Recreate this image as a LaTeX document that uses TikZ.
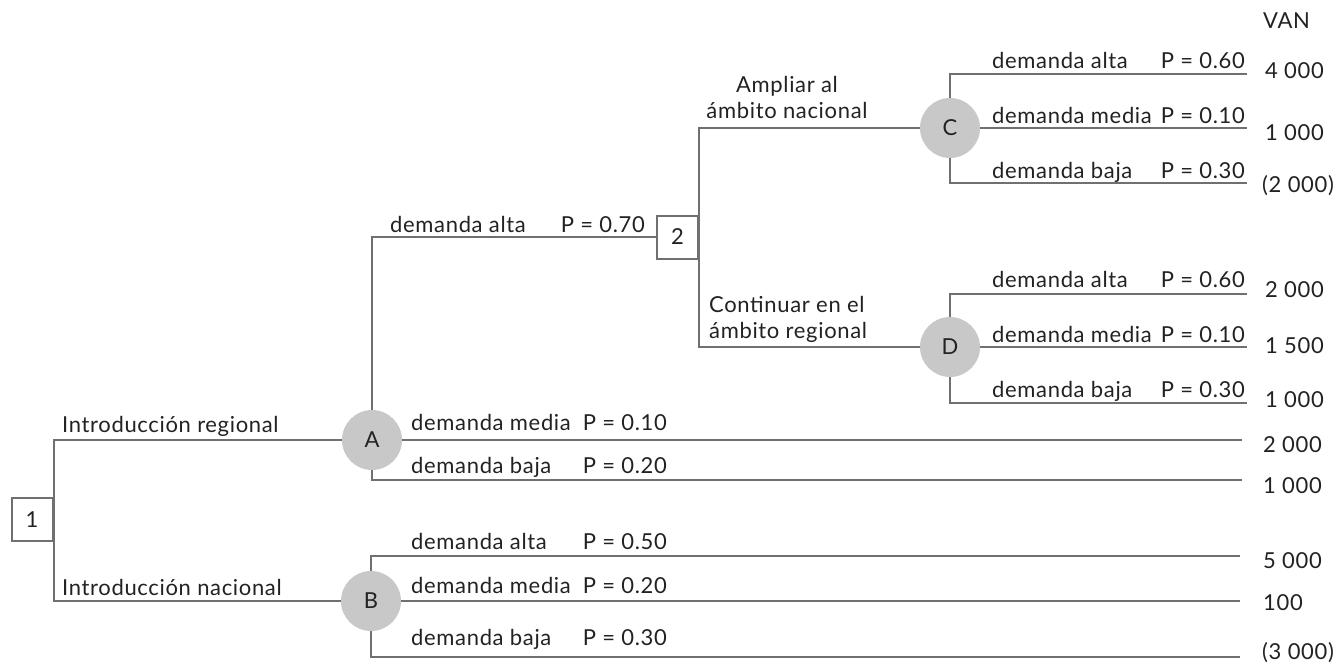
\documentclass[tikz,border=0pt]{standalone}
\usepackage{fontspec}
\setmainfont{Lato}[LetterSpace=3]
\usetikzlibrary{backgrounds}
\definecolor{ln}{HTML}{707070}
\definecolor{cf}{HTML}{C8C8C8}
\definecolor{tx}{HTML}{222222}
\begin{document}
\begin{tikzpicture}[x=1pt,y=-1pt,
  every node/.style={text=tx,font=\fontsize{22}{26}\selectfont},
  chance/.style={circle,fill=cf,minimum size=60pt,inner sep=0pt},
  decision/.style={draw=ln,line width=2pt,fill=white,minimum width=41pt,minimum height=43pt,inner sep=0pt},
  lbl/.style={anchor=base west,inner sep=0pt},
  lblr/.style={anchor=base east,inner sep=0pt},
  val/.style={anchor=base west,inner sep=0pt},
  branch/.style={draw=ln,line width=2pt}]
\useasboundingbox (0,0) rectangle (1342,662);
% decision and chance nodes
\node[decision] (b1) at (32,519.5) {1};
\node[decision] (b2) at (677.5,237) {2};
\node[chance] (A) at (372,440) {A};
\node[chance] (B) at (371,601) {B};
\node[chance] (C) at (950,128) {C};
\node[chance] (D) at (950,347) {D};
% end points
\coordinate (eAm) at (1242,440);
\coordinate (eAb) at (1242,480);
\coordinate (eBa) at (1240,556);
\coordinate (eBm) at (1240,601);
\coordinate (eBb) at (1240,657);
\coordinate (eCa) at (1247,74);
\coordinate (eCm) at (1247,128);
\coordinate (eCb) at (1247,183);
\coordinate (eDa) at (1247,294);
\coordinate (eDm) at (1247,347);
\coordinate (eDb) at (1247,403);
\begin{pgfonlayer}{background}
\draw[branch] (A) -- (A -| b1.east) -- (B -| b1.east) -- (B);
\draw[branch] (b2.west) -- (b2.west -| A) -- (eAb -| A) -- (eAb);
\draw[branch] (A) -- (eAm);
\draw[branch] (eBa) -- (eBa -| B) -- (eBb -| B) -- (eBb);
\draw[branch] (B) -- (eBm);
\draw[branch] (C) -- (C -| b2.east) -- (D -| b2.east) -- (D);
\draw[branch] (eCa) -- (eCa -| C) -- (eCb -| C) -- (eCb);
\draw[branch] (C) -- (eCm);
\draw[branch] (eDa) -- (eDa -| D) -- (eDb -| D) -- (eDb);
\draw[branch] (D) -- (eDm);
\end{pgfonlayer}
% labels
\node[lbl] (t1) at (62,432) {Introducción regional};
\node[lbl] (t2) at (62,595) {Introducción nacional};
\node[lbl] (t3) at (390,232) {demanda alta};
\node[lblr] (p3) at (645,232) {P = 0.70};
\node[anchor=base,inner sep=0pt] (t4a) at (787,92) {Ampliar al};
\node[anchor=base,inner sep=0pt] (t4b) at (787,118) {ámbito nacional};
\node[lbl] (t5a) at (709,312) {Continuar en el};
\node[lbl] (t5b) at (709,338) {ámbito regional};
% C branch labels
\node[lbl] (ca) at (992,68) {demanda alta};
\node[lblr] (pca) at (1245,68) {P = 0.60};
\node[lbl] (cm) at (992,123) {demanda media};
\node[lblr] (pcm) at (1245,123) {P = 0.10};
\node[lbl] (cb) at (992,178) {demanda baja};
\node[lblr] (pcb) at (1245,178) {P = 0.30};
% D branch labels
\node[lbl] (da) at (992,287) {demanda alta};
\node[lblr] (pda) at (1245,287) {P = 0.60};
\node[lbl] (dm) at (992,342) {demanda media};
\node[lblr] (pdm) at (1245,342) {P = 0.10};
\node[lbl] (db) at (992,397) {demanda baja};
\node[lblr] (pdb) at (1245,397) {P = 0.30};
% A branch labels
\node[lbl] (am) at (411,430) {demanda media};
\node[lblr] (pam) at (667,430) {P = 0.10};
\node[lbl] (ab) at (411,473) {demanda baja};
\node[lblr] (pab) at (667,473) {P = 0.20};
% B branch labels
\node[lbl] (ba) at (411,549) {demanda alta};
\node[lblr] (pba) at (667,549) {P = 0.50};
\node[lbl] (bm) at (411,593) {demanda media};
\node[lblr] (pbm) at (667,593) {P = 0.20};
\node[lbl] (bb) at (411,645) {demanda baja};
\node[lblr] (pbb) at (667,645) {P = 0.30};
% values
\node[val] (van) at (1263,28) {VAN};
\node[val] (v1) at (1265,78) {4 000};
\node[val] (v2) at (1265,140) {1 000};
\node[val] (v3) at (1262,192) {(2 000)};
\node[val] (v4) at (1265,297) {2 000};
\node[val] (v5) at (1265,353) {1 500};
\node[val] (v6) at (1265,407) {1 000};
\node[val] (v7) at (1263,452) {2 000};
\node[val] (v8) at (1263,493) {1 000};
\node[val] (v9) at (1263,568) {5 000};
\node[val] (v10) at (1263,610) {100};
\node[val] (v11) at (1262,659) {(3 000)};
\end{tikzpicture}
\end{document}
